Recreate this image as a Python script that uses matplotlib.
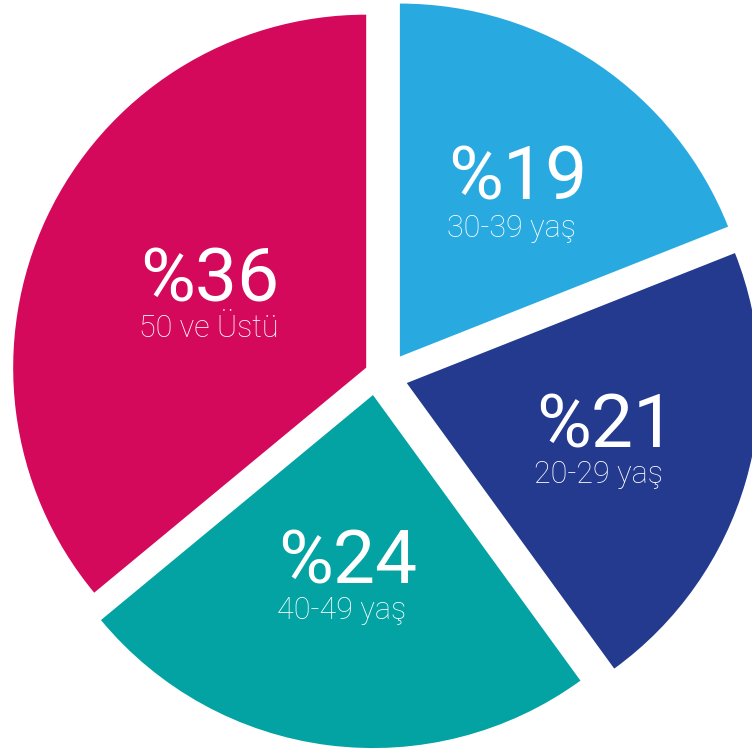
import matplotlib
matplotlib.use("Agg")
from matplotlib import pyplot as plt

# slices, clockwise from 12 o'clock
shares = [19, 21, 24, 36]
big_labels = ["%19", "%21", "%24", "%36"]
small_labels = ["30-39 yaş", "20-29 yaş", "40-49 yaş", "50 ve Üstü"]
colors = ["#28aae1", "#233a8e", "#02a3a2", "#d5095b"]

W, H = 752, 751
# explode distances in pixels (radial), teal slice nudged a bit sideways
explode = [24.7, 21.6, 19.5, 21.9]
nudge = [(0, 0), (0, 0), (-10.6, 1.3), (0, 0)]
# text anchors (left x, baseline y from top) for number / caption
big_pos = [(448, 200), (536, 447), (278, 583), (140, 301)]
small_pos = [(447, 237), (534, 483), (277, 619), (139, 337)]

font = ["Roboto", "DejaVu Sans"]


def main():
    fig = plt.figure(figsize=(W / 100, H / 100), dpi=100)
    ax = fig.add_axes([0, 0, 1, 1])

    wedges, _ = ax.pie(shares, colors=colors, startangle=90, counterclock=False,
                       explode=explode, radius=353, center=(386, H - 377),
                       wedgeprops={"linewidth": 0})
    for w, (dx, dy) in zip(wedges, nudge):
        cx, cy = w.center
        w.set_center((cx + dx, cy + dy))

    for s, (x, y) in zip(big_labels, big_pos):
        ax.text(x, H - y, s, ha="left", va="baseline", color="white",
                fontsize=54, family=font, weight="normal")
    for s, (x, y) in zip(small_labels, small_pos):
        ax.text(x, H - y, s, ha="left", va="baseline", color="white",
                fontsize=22, family=font, weight="light")

    ax.set_xlim(0, W)
    ax.set_ylim(0, H)
    ax.set_aspect("equal")
    ax.axis("off")
    fig.savefig("out.png", dpi=100, facecolor="white")


if __name__ == "__main__":
    main()
